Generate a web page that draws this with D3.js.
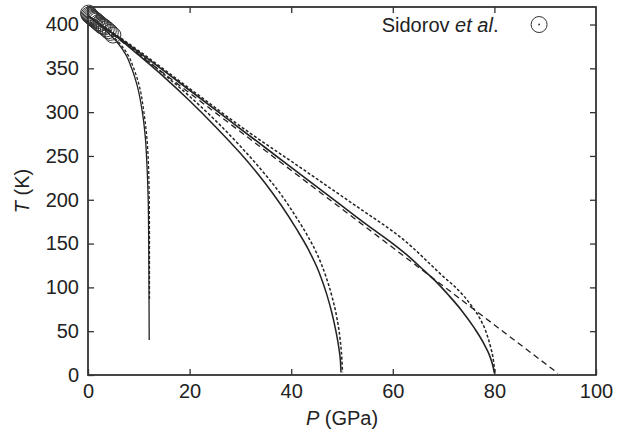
<!DOCTYPE html>
<html>
<head>
<meta charset="utf-8">
<script src="https://cdn.jsdelivr.net/npm/d3@7"></script>
<style>
  body { margin: 0; background: #fff; }
  svg text { font-family: "Liberation Sans", Arial, Helvetica, sans-serif; fill: #222; }
</style>
</head>
<body>
<svg id="chart" width="618" height="440"></svg>
<script>
// tick values
var xTicks = [0, 20, 40, 60, 80, 100];
var yTicks = [0, 50, 100, 150, 200, 250, 300, 350, 400];

// curves, [P (GPa), T (K)]
var curve12Solid = [[0,410],[2.1,400],[4.0,390],[5.7,380],[7.5,365],[8.6,350],[9.7,330],[10.7,300],[11.3,270],[11.6,240],[11.85,200],[11.95,150],[12.0,100],[12.05,40]];
var curve12Dash = [[0,410],[2.2,400],[4.2,390],[6.0,380],[7.9,365],[9.0,350],[10.1,330],[11.0,300],[11.6,270],[11.9,240],[12.05,200],[12.1,150],[12.1,85]];
var curve50Solid = [[0,410],[5,389],[10,365],[15,340],[20,313],[25,284],[30,253],[35,218],[38,194],[41,167],[43.4,143],[45.5,117],[47,92],[48,71],[48.8,50],[49.4,30],[49.7,15],[49.8,3]];
var curve50Dash = [[0,410],[5,390],[10,367],[15,343],[20,318],[25,291],[30,261],[35,228],[38,206],[41,180],[43.5,156],[45.1,138],[46.8,113],[48.1,88],[49,65],[49.6,42],[49.95,20],[50.1,3]];
var curve80Solid = [[0,410],[10,368.5],[20,325],[30,281],[40,237],[50,193],[55,171],[60,150],[63,136],[66,120],[68.6,106],[71,91],[73.5,74],[76,54],[78,35],[79.2,20],[79.8,8],[80,2]];
var curve80Dash = [[0,410],[10,370],[20,327],[31.9,276],[40,244],[50,204],[55,184],[60,164],[62,155],[64,145],[66,134],[68,123],[70,112],[72,102],[74,90],[75.5,79],[77,66],[78.3,50],[79.2,33],[79.8,17],[80.1,2]];
var straightDash = [[0,410],[92.5,2]];

// Sidorov et al. data points
var sidorov = [[0.1,413],[0.2,411],[0.4,410],[0.6,409],[0.8,408],[1.0,407],[1.2,406],[1.4,405],[1.7,404],[2.0,402],[2.3,401],[2.6,399],[2.9,398],[3.2,397],[3.6,395],[4.0,393],[4.4,391],[4.9,388]];

var margin = {top: 7, right: 22, bottom: 65, left: 88},
    width = 618 - margin.left - margin.right,
    height = 440 - margin.top - margin.bottom;

var svg = d3.select("#chart");
var g = svg.append("g").attr("transform", `translate(${margin.left},${margin.top})`);

var x = d3.scaleLinear().domain([0, 100]).range([0, width]);
var y = d3.scaleLinear().domain([0, 420]).range([height, 0]);

var lineY = d3.line().x(d => x(d[0])).y(d => y(d[1])).curve(d3.curveMonotoneY);
var lineX = d3.line().x(d => x(d[0])).y(d => y(d[1])).curve(d3.curveMonotoneX);

// axes, ticks pointing inward
var fs = "20px";
g.append("g").attr("transform", `translate(0,${height})`)
  .call(d3.axisBottom(x).tickValues(xTicks).tickSize(-6).tickPadding(9));
g.append("g")
  .call(d3.axisLeft(y).tickValues(yTicks).tickSize(-6).tickPadding(9));
g.append("g").call(d3.axisTop(x).tickValues(xTicks.slice(1, -1)).tickSize(-6).tickFormat(""));
g.append("g").attr("transform", `translate(${width},0)`)
  .call(d3.axisRight(y).tickValues(yTicks.slice(1)).tickSize(-6).tickFormat(""));
g.selectAll(".domain").remove();
g.selectAll(".tick line").attr("stroke", "#333").attr("stroke-width", 1.3);
g.selectAll(".tick text").style("font-size", fs).attr("fill", "#222");

// frame
g.append("rect").attr("width", width).attr("height", height)
  .attr("fill", "none").attr("stroke", "#333").attr("stroke-width", 1.8);

// curves
var curves = g.append("g").attr("fill", "none").attr("stroke", "#222");
curves.append("path").attr("d", lineY(curve12Solid)).attr("stroke-width", 1.3);
curves.append("path").attr("d", lineY(curve12Dash)).attr("stroke-width", 1.3).attr("stroke-dasharray", "3,2");
curves.append("path").attr("d", lineX(curve50Solid)).attr("stroke-width", 1.5);
curves.append("path").attr("d", lineX(curve50Dash)).attr("stroke-width", 1.5).attr("stroke-dasharray", "3,2");
curves.append("path").attr("d", lineX(curve80Solid)).attr("stroke-width", 1.6);
curves.append("path").attr("d", lineX(curve80Dash)).attr("stroke-width", 1.5).attr("stroke-dasharray", "3,2");
curves.append("path").attr("d", lineX(straightDash)).attr("stroke-width", 1.3).attr("stroke-dasharray", "6,4");

// Sidorov circles
g.append("g").selectAll("circle").data(sidorov).join("circle")
  .attr("cx", d => x(d[0])).attr("cy", d => y(d[1])).attr("r", 8)
  .attr("fill", "none").attr("stroke", "#333").attr("stroke-width", 1);

// legend
var leg = g.append("g");
var lt = leg.append("text").attr("x", x(80.8)).attr("y", y(400)).attr("dy", "0.35em")
  .attr("text-anchor", "end").style("font-size", fs);
lt.append("tspan").text("Sidorov ");
lt.append("tspan").style("font-style", "italic").text("et al");
lt.append("tspan").text(".");
leg.append("circle").attr("cx", x(88.8)).attr("cy", y(400)).attr("r", 8)
  .attr("fill", "none").attr("stroke", "#333").attr("stroke-width", 1);
leg.append("circle").attr("cx", x(88.8)).attr("cy", y(400)).attr("r", 0.9).attr("fill", "#333");

// axis labels
var xl = svg.append("text").attr("x", margin.left + width / 2).attr("y", 425)
  .attr("text-anchor", "middle").style("font-size", fs);
xl.append("tspan").style("font-style", "italic").text("P");
xl.append("tspan").text(" (GPa)");
var yl = svg.append("text").attr("transform", `translate(29,${margin.top + height / 2}) rotate(-90)`)
  .attr("text-anchor", "middle").style("font-size", fs);
yl.append("tspan").style("font-style", "italic").text("T");
yl.append("tspan").text(" (K)");
</script>
</body>
</html>
